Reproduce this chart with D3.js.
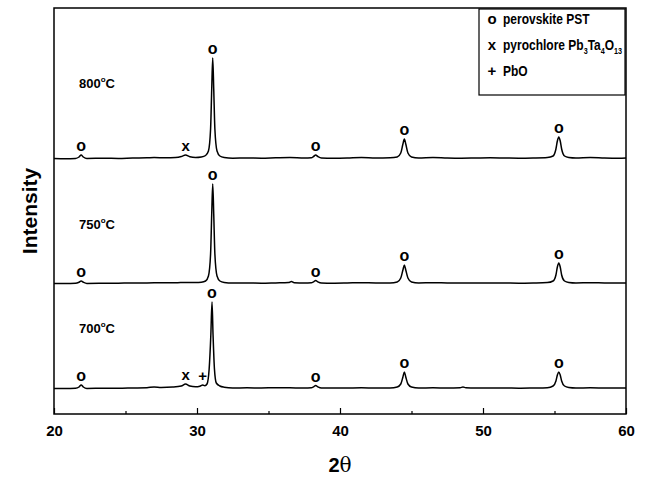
<!DOCTYPE html>
<html><head><meta charset="utf-8">
<script src="https://cdn.jsdelivr.net/npm/d3@7"></script>
<style>body{margin:0;background:#fff}svg{display:block}text{font-family:Arial,"Liberation Sans",sans-serif;font-weight:bold;fill:#000}</style>
</head><body><div id="chart"></div>
<script>
// ---- data ----
const temps = ["800", "750", "700"];
const offsets = [255, 130, 25];
const xTicks = [20, 30, 40, 50, 60];
const xMinor = [25, 35, 45, 55];
const t800 = [[20.0,0.5],[20.8,0.3],[21.5,0.6],[21.75,2],[21.9,4],[22.05,2],[22.3,0.5],[23.5,0.8],[24.5,0.6],[25.5,1],[26.5,1.2],[27.0,1.5],[27.8,1.2],[28.5,1.5],[28.9,2.5],[29.2,4],[29.5,2.2],[29.9,1.5],[30.3,2],[30.6,3.5],[30.8,8],[30.95,30],[31.03,70],[31.1,101],[31.17,70],[31.25,30],[31.4,8],[31.6,3],[31.9,1.5],[32.5,0.8],[33.5,1],[34.5,0.8],[35.5,1.2],[36.5,1.5],[37.5,1],[38.0,1.2],[38.15,2.5],[38.3,4],[38.45,2.5],[38.7,1],[39.5,0.8],[40.5,1],[41.5,1.5],[42.5,1],[43.5,1.2],[44.0,2],[44.25,6],[44.4,15],[44.5,20],[44.6,15],[44.75,6],[45.0,2],[45.5,1],[46.5,1.5],[47.5,1],[48.5,0.8],[49.5,1],[50.5,1.2],[51.5,1],[52.5,0.8],[53.5,1],[54.5,1.5],[54.9,3],[55.1,10],[55.2,18],[55.3,22],[55.4,18],[55.5,10],[55.7,3],[56.0,1.5],[56.5,1],[57.5,1.5],[58.5,1],[59.5,0.8],[60.0,1]];
const t750 = [[20.0,0.6],[20.8,0.4],[21.5,0.7],[21.75,1.8],[21.9,3],[22.05,1.8],[22.3,0.6],[23.5,0.7],[24.5,0.8],[25.5,1],[26.5,1],[27.5,1.3],[28.5,1.2],[29.2,1.6],[29.9,1.5],[30.3,1.8],[30.6,3],[30.8,8],[30.95,30],[31.03,70],[31.1,100],[31.17,70],[31.25,30],[31.4,8],[31.6,3],[31.9,1.5],[32.5,0.9],[33.5,1],[34.5,0.8],[35.5,1.1],[36.4,1.4],[36.6,2.5],[36.8,1.3],[37.5,1],[38.0,1.2],[38.15,2.2],[38.3,3.5],[38.45,2.2],[38.7,1],[39.5,0.8],[40.5,1],[41.5,1.3],[42.5,1],[43.5,1.1],[44.0,2],[44.25,6],[44.4,14],[44.5,19],[44.6,14],[44.75,6],[45.0,2],[45.5,1],[46.5,1.3],[47.5,1],[48.5,0.9],[49.5,1],[50.5,1.1],[51.5,1],[52.5,0.8],[53.5,1],[54.5,1.4],[54.9,3],[55.1,9],[55.2,17],[55.3,21],[55.4,17],[55.5,9],[55.7,3],[56.0,1.5],[56.5,1],[57.5,1.3],[58.5,1],[59.5,0.9],[60.0,1]];
const t700 = [[20.0,0.6],[20.8,0.4],[21.5,0.7],[21.75,2],[21.9,4],[22.05,2],[22.3,0.6],[23.5,0.8],[24.5,0.7],[25.5,1],[26.5,1.3],[27.0,2],[27.5,1.6],[28.3,2],[28.9,3],[29.2,5],[29.5,3],[29.9,2.2],[30.2,2.8],[30.4,4],[30.55,3.2],[30.7,5],[30.85,20],[30.97,55],[31.05,87],[31.12,55],[31.22,20],[31.35,6],[31.6,3],[31.9,1.8],[32.5,1],[33.5,1.2],[34.5,1],[35.5,1.3],[36.5,1.2],[37.5,1],[38.0,1.2],[38.15,2.2],[38.3,3.5],[38.45,2.2],[38.7,1],[39.5,0.9],[40.5,1],[41.5,1.2],[42.5,1],[43.5,1.1],[44.0,2],[44.25,5],[44.4,12],[44.5,17],[44.6,12],[44.75,5],[45.0,2],[45.5,1],[46.5,1.2],[47.5,1],[48.4,1.2],[48.6,2],[48.8,1.2],[49.5,0.9],[50.5,1],[51.5,1],[52.5,0.8],[53.5,1],[54.5,1.3],[54.9,3],[55.1,8],[55.2,14],[55.3,17],[55.4,14],[55.5,8],[55.7,3],[56.0,1.5],[56.5,1],[57.5,1.2],[58.5,1],[59.5,0.9],[60.0,1]];
const traces = [t800, t750, t700];
// peak annotations: [trace index, 2theta, symbol]
const marks = [[0,21.9,"o"],[0,29.2,"x"],[0,31.1,"o"],[0,38.3,"o"],[0,44.5,"o"],[0,55.3,"o"],
               [1,21.9,"o"],[1,31.1,"o"],[1,38.3,"o"],[1,44.5,"o"],[1,55.3,"o"],
               [2,21.9,"o"],[2,29.2,"x"],[2,30.4,"+"],[2,31.05,"o"],[2,38.3,"o"],[2,44.5,"o"],[2,55.3,"o"]];
const legendSymbols = ["o", "x", "+"];
const legendNames = ["perovskite PST", "pyrochlore Pb3Ta4O13", "PbO"];

// ---- chart ----
const W = 645, H = 479;
const m = {l: 54, r: 19, t: 8, b: 65};
const svg = d3.select("#chart").append("svg").attr("width", W).attr("height", H);
const x = d3.scaleLinear().domain([20, 60]).range([m.l, W - m.r]);
const y = d3.scaleLinear().domain([0, 406]).range([H - m.b, m.t]);

const line = d3.line().x(d => x(d[0])).y(d => y(d[1])).curve(d3.curveMonotoneX);
traces.forEach((t, i) => {
  svg.append("path").datum(t.map(d => [d[0], d[1] + offsets[i]]))
    .attr("d", line).attr("fill", "none").attr("stroke", "#000").attr("stroke-width", 1.5);
});

function peakAt(t, a) {
  let best = 0;
  t.forEach(d => { if (Math.abs(d[0] - a) < 0.12) best = Math.max(best, d[1]); });
  return best;
}
marks.forEach(mk => {
  const [ti, a, s] = mk;
  const top = peakAt(traces[ti], a) + offsets[ti];
  svg.append("text").attr("x", x(a)).attr("y", y(top) - 4)
    .attr("text-anchor", "middle").attr("font-size", s === "o" ? 16 : 15).text(s);
});

// temperature labels
const tempY = [83, 224, 328];
temps.forEach((t, i) => {
  const tx = svg.append("text").attr("x", 79).attr("y", tempY[i] + 5).attr("font-size", 13);
  tx.append("tspan").text(t);
  tx.append("tspan").attr("dy", -6).attr("font-size", 8).text("o");
  tx.append("tspan").attr("dy", 6).text("C");
});

// frame
svg.append("rect").attr("x", m.l).attr("y", m.t).attr("width", W - m.r - m.l).attr("height", H - m.b - m.t)
  .attr("fill", "none").attr("stroke", "#000").attr("stroke-width", 1.5);

// x axis
const ax = svg.append("g").attr("transform", `translate(0,${H - m.b})`)
  .call(d3.axisBottom(x).tickValues(xTicks).tickSize(-6).tickPadding(11).tickFormat(d3.format("d")));
ax.select(".domain").remove();
ax.selectAll("line").attr("stroke-width", 1.2);
ax.selectAll("text").attr("font-size", 15).style("font-family", "Arial, 'Liberation Sans', sans-serif").style("font-weight", "bold");
const axm = svg.append("g").attr("transform", `translate(0,${H - m.b})`)
  .call(d3.axisBottom(x).tickValues(xMinor).tickSize(-3).tickFormat(""));
axm.select(".domain").remove();
axm.selectAll("line").attr("stroke-width", 1.2);

// axis titles
const xt = svg.append("text").attr("x", x(40)).attr("y", 472).attr("text-anchor", "middle").attr("font-size", 20);
xt.append("tspan").text("2");
xt.append("tspan").style("font-family", "'DejaVu Serif', 'Liberation Serif', serif").style("font-weight", "normal").text("θ");
svg.append("text").attr("transform", `translate(37,${211}) rotate(-90)`).attr("text-anchor", "middle")
  .attr("font-size", 21).text("Intensity");

// legend
const lg = svg.append("g");
lg.append("rect").attr("x", 479).attr("y", 9).attr("width", 146).attr("height", 86)
  .attr("fill", "#fff").attr("stroke", "#000").attr("stroke-width", 1.2);
const rowY = [24, 50, 76];
legendSymbols.forEach((s, i) => {
  lg.append("text").attr("x", 492).attr("y", rowY[i]).attr("text-anchor", "middle").attr("font-size", 15).text(s);
  const t = lg.append("text").attr("transform", `translate(503,${rowY[i]}) scale(0.8,1)`).attr("font-size", 15);
  if (i === 1) {
    t.append("tspan").text("pyrochlore Pb");
    t.append("tspan").attr("dy", 4).attr("font-size", 9).text("3");
    t.append("tspan").attr("dy", -4).text("Ta");
    t.append("tspan").attr("dy", 4).attr("font-size", 9).text("4");
    t.append("tspan").attr("dy", -4).text("O");
    t.append("tspan").attr("dy", 4).attr("font-size", 9).text("13");
  } else t.text(legendNames[i]);
});
</script></body></html>
